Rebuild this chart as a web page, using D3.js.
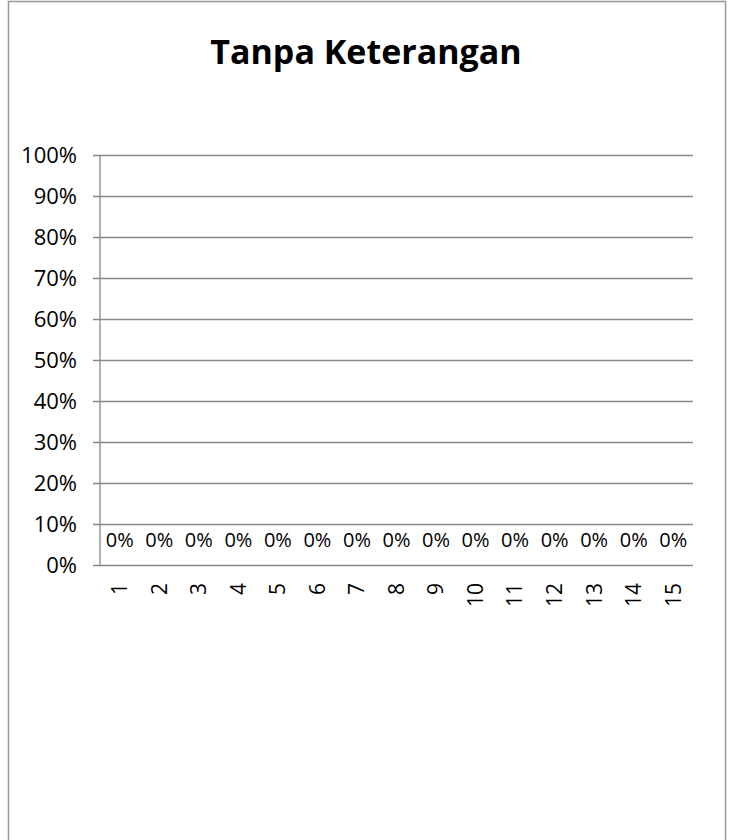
<!DOCTYPE html>
<html>
  <head>
    <script src="https://cdn.jsdelivr.net/npm/d3@7"></script>
    <style>
      body { margin: 0; background: #fff; }
    </style>
  </head>
  <body>
    <svg width="733" height="840" id="mainsvg"></svg>
    <script>
      const svg = d3.select('#mainsvg');
      const title = 'Tanpa Keterangan';
      const categories = ['1','2','3','4','5','6','7','8','9','10','11','12','13','14','15'];
      const values = [0,0,0,0,0,0,0,0,0,0,0,0,0,0,0];
      const yTicks = [0,0.1,0.2,0.3,0.4,0.5,0.6,0.7,0.8,0.9,1];

      const fontFamily = '"Open Sans", "Noto Sans", sans-serif';
      const margin = {top: 155, left: 100, right: 40, bottom: 275};
      const innerWidth = 733 - margin.left - margin.right;
      const innerHeight = 840 - margin.top - margin.bottom;

      // chart frame
      svg.append('rect')
        .attr('x', 8.5).attr('y', 1.5)
        .attr('width', 717).attr('height', 850)
        .attr('fill', 'none')
        .attr('stroke', '#999').attr('stroke-width', 1.5);

      svg.append('text')
        .attr('x', 366).attr('y', 64)
        .attr('text-anchor', 'middle')
        .attr('font-family', fontFamily)
        .attr('font-size', 34).attr('font-weight', 'bold')
        .text(title);

      const g = svg.append('g').attr('transform', `translate(${margin.left}, ${margin.top})`);

      const xScale = d3.scaleBand().domain(categories).range([0, innerWidth]);
      const yScale = d3.scaleLinear().domain([0, 1]).range([innerHeight, 0]);

      // gridlines + y axis
      const yAxis = d3.axisLeft(yScale)
        .tickValues(yTicks)
        .tickFormat(d3.format('.0%'))
        .tickSize(-innerWidth);
      const yAxisGroup = g.append('g').call(yAxis)
        .attr('font-family', fontFamily).attr('font-size', 22);
      yAxisGroup.selectAll('.tick line')
        .attr('x1', -7)
        .attr('stroke', '#888').attr('stroke-width', 1.3);
      yAxisGroup.select('.domain').remove();
      yAxisGroup.selectAll('.tick text')
        .attr('x', -23)
        .attr('fill', '#000');

      g.append('line')
        .attr('x1', 0).attr('x2', 0)
        .attr('y1', 0).attr('y2', innerHeight)
        .attr('stroke', '#888').attr('stroke-width', 1.3);

      // x axis labels (rotated)
      const xAxis = d3.axisBottom(xScale).tickSize(0).tickPadding(0);
      const xAxisGroup = g.append('g')
        .attr('transform', `translate(0, ${innerHeight})`)
        .call(xAxis)
        .attr('font-family', fontFamily).attr('font-size', 21);
      xAxisGroup.select('.domain').remove();
      xAxisGroup.selectAll('.tick text')
        .attr('transform', 'rotate(-90)')
        .attr('x', -18).attr('y', 0).attr('dy', '0.35em')
        .attr('text-anchor', 'end')
        .attr('fill', '#000');

      // bars (all zero) and data labels
      g.selectAll('.bar')
        .data(values)
        .join('rect')
        .attr('class', 'bar')
        .attr('x', (d, i) => xScale(categories[i]) + xScale.bandwidth() * 0.2)
        .attr('width', xScale.bandwidth() * 0.6)
        .attr('y', d => yScale(d))
        .attr('height', d => innerHeight - yScale(d))
        .attr('fill', '#4f81bd');

      g.selectAll('.label')
        .data(values)
        .join('text')
        .attr('class', 'label')
        .attr('x', (d, i) => xScale(categories[i]) + xScale.bandwidth() / 2)
        .attr('y', d => yScale(d) - 18)
        .attr('text-anchor', 'middle')
        .attr('font-family', fontFamily)
        .attr('font-size', 20)
        .attr('fill', '#000')
        .text(d => d3.format('.0%')(d));
    </script>
  </body>
</html>
